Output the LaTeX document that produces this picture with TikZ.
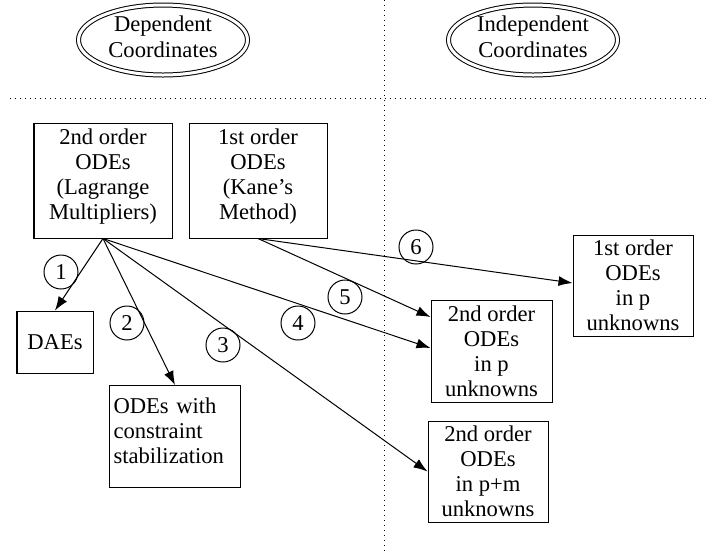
\documentclass[tikz,border=0pt]{standalone}
\usepackage{fontspec}
\setmainfont{Liberation Serif}
\usetikzlibrary{shapes.geometric,arrows.meta}

\begin{document}
\begin{tikzpicture}[x=0.5pt,y=-0.5pt,line width=0.5pt,
    font=\fontsize{11.3}{12.5}\selectfont,
    >={Latex[length=7pt,width=5pt]},
    box/.style 2 args={shape=rectangle,draw=black,align=center,inner sep=0pt,
        minimum width=#1,minimum height=#2},
    num/.style={shape=circle,draw=black,minimum size=17pt,inner sep=0pt},
    heading/.style={shape=ellipse,draw=black,double,double distance=1.5pt,
        minimum width=84.5pt,minimum height=35pt,inner sep=0pt,align=center,
        text depth=3pt,font=\fontsize{11.3}{13}\selectfont}]

    \useasboundingbox (0,0) rectangle (709,554);

    % separators
    \draw[dotted] (384,0) -- (384,554);
    \draw[dotted] (10,98) -- (709,98);

    \node[heading] (dep) at (163, 40)   {Dependent\\Coordinates};
    \node[heading] (indep) at (533, 40) {Independent\\Coordinates};

    \node[box={69pt}{57.5pt},text depth=6.5pt] (lag) at (103, 180.5)  {2nd order\\ODEs\\(Lagrange\\Multipliers)};
    \node[box={69pt}{57.5pt},text depth=6.5pt] (kane) at (258, 180.5) {1st order\\ODEs\\(Kane's\\Method)};

    \node[box={38pt}{31pt}] (dae) at (55, 342) {DAEs};
    \node[shape=rectangle,draw=black,anchor=north west,align=left,
          inner xsep=2pt,inner ysep=2pt,text width=61.5pt,
          text height=12pt,text depth=35pt] (stab) at (109, 385)
          {ODEs with\\constraint\\stabilization};

    \node[box={60pt}{50.5pt}] (first) at (633, 285.5) {1st order\\ODEs\\in p\\unknowns};
    \node[box={60.5pt}{51pt}] (secp) at (491.5, 351)  {2nd order\\ODEs\\in p\\unknowns};
    \node[box={60pt}{50.5pt}] (secpm) at (488, 471.5) {2nd order\\ODEs\\in p+m\\unknowns};

    \node[num] (n1) at (61, 272)  {1};
    \node[num] (n2) at (127, 323) {2};
    \node[num] (n3) at (223, 345) {3};
    \node[num] (n4) at (298, 323) {4};
    \node[num] (n5) at (345, 297) {5};
    \node[num] (n6) at (416, 247) {6};

    \path[->] (lag.south) edge (dae.north);
    \path[->] (lag.south) edge (stab.north);
    \path[->] (lag.south) edge (secpm.west);
    \path[->] (lag.south) edge ([yshift=1.5pt]secp.west);
    \path[->] (kane.south) edge ([yshift=17pt]secp.west);
    \path[->] (kane.south) edge ([yshift=1.25pt]first.west);

\end{tikzpicture}
\end{document}
